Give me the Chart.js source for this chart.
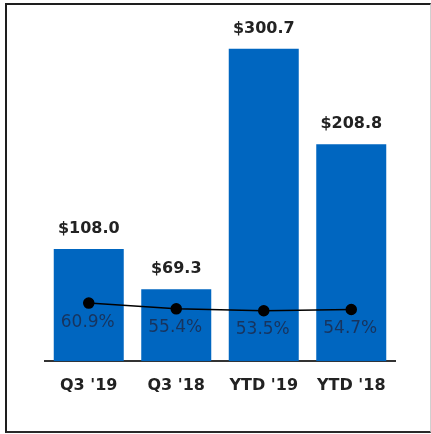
<!DOCTYPE html>
<html>
<head>
<meta charset="utf-8">
<script src="https://cdn.jsdelivr.net/npm/chart.js@4"></script>
<style>
  html, body { margin: 0; padding: 0; background: #fff; }
  #wrap { position: relative; width: 431px; height: 434px; overflow: hidden; }
  #frame { position: absolute; left: 5px; top: 3px; width: 426px; height: 430px; box-sizing: border-box;
           border-left: 2px solid #1e1e1e; border-top: 2px solid #1e1e1e; border-bottom: 2px solid #2a2a2a;
           border-right: 1px solid #d0d0d0; pointer-events: none; }
  canvas { position: absolute; left: 0; top: 0; }
</style>
</head>
<body>
<div id="wrap">
  <canvas id="c" width="431" height="434"></canvas>
  <div id="frame"></div>
</div>
<script>
const categories = ["Q3 '19", "Q3 '18", "YTD '19", "YTD '18"];
const revenue = [108.0, 69.3, 300.7, 208.8];
const revenueLabels = ["$108.0", "$69.3", "$300.7", "$208.8"];
const margin = [60.9, 55.4, 53.5, 54.7];
const marginLabels = ["60.9%", "55.4%", "53.5%", "54.7%"];

const labelPlugin = {
  id: 'valueLabels',
  afterDatasetsDraw(chart) {
    const ctx = chart.ctx;
    ctx.save();
    ctx.textAlign = 'center';
    ctx.textBaseline = 'middle';
    const bars = chart.getDatasetMeta(0).data;
    ctx.fillStyle = '#222222';
    ctx.font = 'bold 16px "DejaVu Sans"';
    bars.forEach((b, i) => ctx.fillText(revenueLabels[i], b.x, b.y - 20));
    const pts = chart.getDatasetMeta(1).data;
    ctx.fillStyle = '#17345e';
    ctx.font = '17px "DejaVu Sans"';
    pts.forEach((p, i) => ctx.fillText(marginLabels[i], bars[i].x - 1, p.y + 19));
    ctx.restore();
  }
};

new Chart(document.getElementById('c'), {
  type: 'bar',
  data: {
    labels: categories,
    datasets: [
      {
        type: 'bar',
        data: revenue,
        backgroundColor: '#0066c0',
        barPercentage: 0.8,
        categoryPercentage: 1.0,
        yAxisID: 'y',
        order: 2
      },
      {
        type: 'line',
        data: margin,
        borderColor: '#000000',
        borderWidth: 1.5,
        pointRadius: 5,
        pointBackgroundColor: '#000000',
        pointBorderColor: '#000000',
        yAxisID: 'y2',
        order: 1
      }
    ]
  },
  options: {
    responsive: false,
    animation: false,
    layout: { padding: { left: 45, right: 36, top: 8, bottom: 23.5 } },
    plugins: { legend: { display: false }, tooltip: { enabled: false } },
    scales: {
      x: {
        offset: true,
        grid: { display: false, drawTicks: false },
        border: { display: true, color: '#333333', width: 2 },
        ticks: { color: '#222222', padding: 15, font: { family: 'DejaVu Sans', size: 16, weight: 'bold' } }
      },
      y: { display: false, min: 0, max: 340 },
      y2: { display: false, min: 4.9, max: 344.9 }
    }
  },
  plugins: [labelPlugin]
});
</script>
</body>
</html>
